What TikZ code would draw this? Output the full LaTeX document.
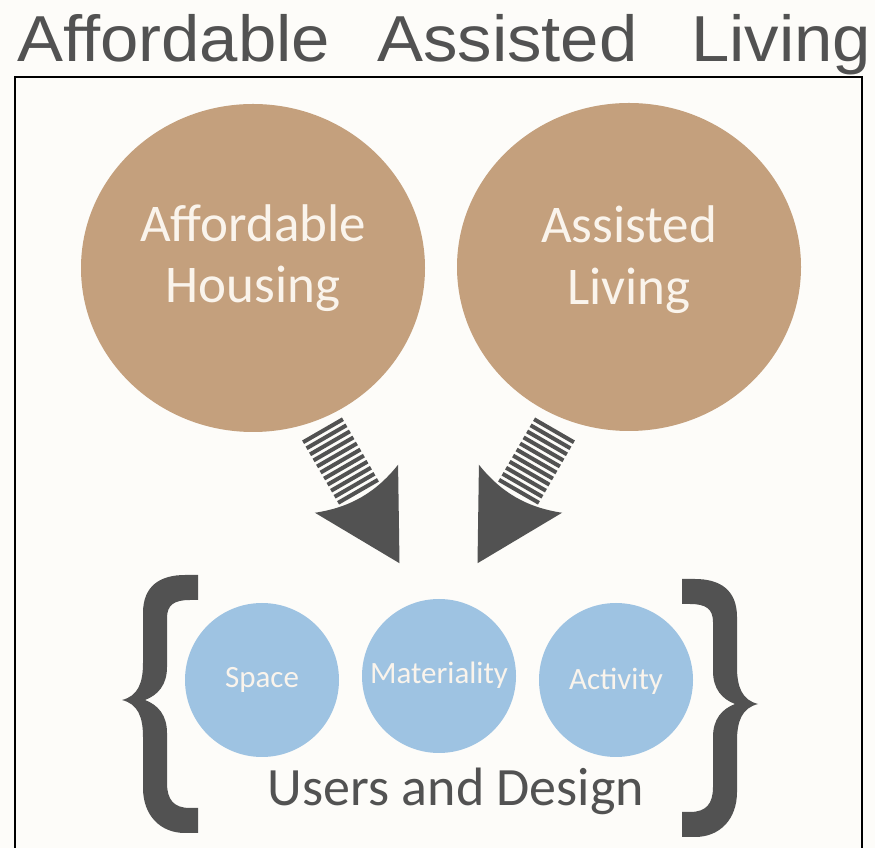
\documentclass[tikz,border=0pt]{standalone}
\usepackage{fontspec}
\setmainfont{Carlito}
\newfontfamily\titlefont[FakeStretch=1.06]{Liberation Sans}
\usetikzlibrary{positioning,shapes.geometric}

\definecolor{paper}{RGB}{253,252,249}
\definecolor{housetan}{RGB}{196,160,125}
\definecolor{ballblue}{RGB}{158,195,226}
\definecolor{balltext}{RGB}{250,244,236}
\definecolor{darkgrey}{RGB}{82,82,82}

\begin{document}
\begin{tikzpicture}[x=1pt,y=1pt,
    bigball/.style={ellipse,fill=housetan,minimum width=344pt,minimum height=328pt,inner sep=0pt},
    smallball/.style={circle,fill=ballblue,minimum size=154pt,inner sep=0pt},
    bigtext/.style={text=balltext,font=\fontsize{53}{60}\selectfont,anchor=base,inner sep=0pt},
    smalltext/.style={text=balltext,font=\fontsize{31}{36}\selectfont,anchor=base,inner sep=0pt},
    titletext/.style={text=darkgrey,font=\titlefont\fontsize{65}{70}\selectfont,anchor=base west,inner sep=0pt}
]
% page and frame
\useasboundingbox (0,0) rectangle (875,848);
\fill[paper] (0,0) rectangle (875,848);
\draw[line width=2.5pt] (15,-10) rectangle (862,771);

% the title, one word at a time
\node[titletext] (title-a) at (17,786) {Affordable};
\node[titletext] (title-b) at (377,786) {Assisted};
\node[titletext] (title-c) at (691,786) {Living};

% the two big circles
\node[bigball] (housing) at (253,580) {};
\node[bigtext] (housing-a) at ([yshift=26pt]housing.center) {Affordable};
\node[bigtext] (housing-b) at ([yshift=-35pt]housing.center) {Housing};

\node[bigball] (assisted) at (629,581) {};
\node[bigtext] (assisted-a) at ([yshift=24pt]assisted.center) {Assisted};
\node[bigtext] (assisted-b) at ([yshift=-38pt]assisted.center) {Living};

% the three small circles
\node[smallball] (space) at (262,168) {};
\node[smalltext] at ([yshift=-8pt]space.center) {Space};
\node[smallball] (material) at (439,172) {};
\node[smalltext] at ([yshift=-8pt]material.center) {Materiality};
\node[smallball] (activity) at (616,168) {};
\node[smalltext] at ([yshift=-10pt]activity.center) {Activity};

\node[text=darkgrey,font=\fontsize{54}{60}\selectfont,anchor=base,inner sep=0pt]
    (users) at (456,42) {Users and Design};

% striped arrows, the right one is the left one turned
\coordinate (arrowL) at (322,419);
\coordinate (arrowR) at (555,419);
\foreach \where/\turn in {arrowL/-60,arrowR/-120}{
    \begin{scope}[shift={(\where)},rotate=\turn]
        \foreach \i in {0,...,10}
            \fill[darkgrey] (\i*7,-23) rectangle ++(4,46);
        \fill[darkgrey] (69,48) -- (155,0) -- (69,-48)
            .. controls (82,-15) and (82,15) .. (69,48) -- cycle;
    \end{scope}
}

% braces round the small circles
\fill[darkgrey] (198,273) -- (185,273) .. controls (160,273) and (143,262) .. (143,235)
    -- (143,185) .. controls (143,165) and (138,152) .. (122,148)
    .. controls (138,144) and (143,131) .. (143,111)
    -- (143,60) .. controls (143,33) and (160,15) .. (185,15) -- (198,15)
    -- (198,40) -- (190,40) .. controls (174,40) and (167,48) .. (167,65)
    -- (167,115) .. controls (167,133) and (158,143) .. (145,148)
    .. controls (158,153) and (167,163) .. (167,181)
    -- (167,230) .. controls (167,243) and (174,248) .. (190,248) -- (198,248) -- cycle;
\begin{scope}[xshift=880pt,xscale=-1,yshift=-4pt]
\fill[darkgrey] (198,273) -- (185,273) .. controls (160,273) and (143,262) .. (143,235)
    -- (143,185) .. controls (143,165) and (138,152) .. (122,148)
    .. controls (138,144) and (143,131) .. (143,111)
    -- (143,60) .. controls (143,33) and (160,15) .. (185,15) -- (198,15)
    -- (198,40) -- (190,40) .. controls (174,40) and (167,48) .. (167,65)
    -- (167,115) .. controls (167,133) and (158,143) .. (145,148)
    .. controls (158,153) and (167,163) .. (167,181)
    -- (167,230) .. controls (167,243) and (174,248) .. (190,248) -- (198,248) -- cycle;
\end{scope}
\end{tikzpicture}
\end{document}
